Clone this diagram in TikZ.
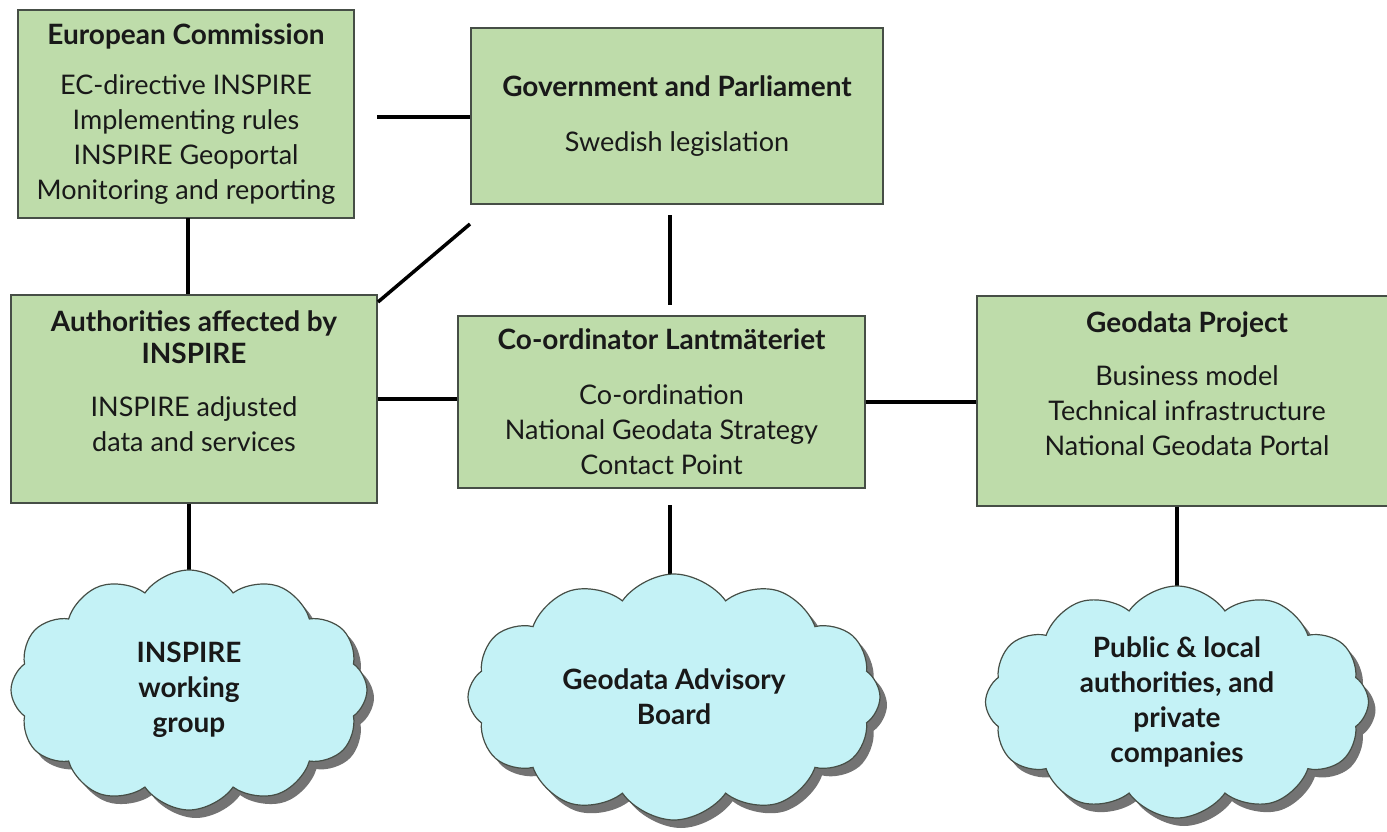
\documentclass[tikz,border=0pt]{standalone}
\usepackage{fontspec}
\setmainfont{Lato}
\usetikzlibrary{shapes.symbols,shadows}
\definecolor{boxgreen}{RGB}{190,220,170}
\definecolor{cloudcyan}{RGB}{196,242,246}
\definecolor{edgegray}{RGB}{70,78,70}
\definecolor{txt}{RGB}{25,25,25}
\newcommand{\ttl}[1]{{\bfseries\fontsize{28}{35}\selectfont #1}}
\begin{document}
\begin{tikzpicture}[x=1pt,y=-1pt,
  box/.style={draw=edgegray, line width=1.5pt, fill=boxgreen, align=center, inner sep=0pt,
    text=txt, font=\fontsize{27}{35}\selectfont},
  puff/.style={cloud, cloud puffs=12, cloud puff arc=110, cloud ignores aspect,
    shape border rotate=15,
    draw=edgegray, line width=1.2pt, fill=cloudcyan, align=center, inner sep=0pt, text=txt,
    font=\bfseries\fontsize{28}{35}\selectfont,
    drop shadow={shadow xshift=7pt, shadow yshift=-8pt, fill=black!55, opacity=1}},
  link/.style={line width=3.5pt, black}]

\useasboundingbox (0,0) rectangle (1387,832);

% boxes
\node[box, minimum width=336pt, minimum height=208pt] (ec) at (186,114)
  {\ttl{European Commission}\\[15pt]
   EC-directive INSPIRE\\ Implementing rules\\ INSPIRE Geoportal\\ Monitoring and reporting};
\node[box, minimum width=412pt, minimum height=176pt] (gp) at (677,116)
  {\ttl{Government and Parliament}\\[20pt] Swedish legislation};
\node[box, minimum width=366pt, minimum height=208pt] (auth) at (194,399)
  {\ttl{Authorities affected by}\\[-3pt] \ttl{INSPIRE}\\[18pt]
   INSPIRE adjusted\\ data and services\\ \mbox{}};
\node[box, minimum width=407pt, minimum height=172pt] (coord) at (661.5,402)
  {\ttl{Co-ordinator Lantmäteriet}\\[20pt]
   Co-ordination\\ National Geodata Strategy\\ Contact Point};
\node[box, minimum width=420pt, minimum height=210pt] (geo) at (1187,401)
  {\ttl{Geodata Project}\\[18pt]
   Business model\\ Technical infrastructure\\ National Geodata Portal\\ \mbox{}};

% connectors between boxes
\coordinate (ecR) at (377,117);
\draw[link] (ecR) -- (ecR -| gp.west);
\coordinate (ecB) at (188,218);
\draw[link] (ecB) -- (ecB |- auth.north);
\coordinate (dA) at (378,302);
\coordinate (dB) at (470,224);
\draw[link] (dA) -- (dB);
\coordinate (gcA) at (670,215);
\coordinate (gcB) at (670,305);
\draw[link] (gcA) -- (gcB);
\draw[link] (auth.east) -- (auth.east -| coord.west);
\draw[link] (coord.east) -- (coord.east -| geo.west);

% cloud centres and links
\coordinate (c1) at (189,690);
\coordinate (c2) at (674,697);
\coordinate (c3) at (1177,702);
\draw[link] (auth.south -| c1) -- (c1);
\coordinate (cbA) at (670,505);
\draw[link] (cbA) -- (cbA |- c2);
\draw[link] (geo.south -| c3) -- (c3);

% clouds
\node[puff, minimum width=356pt, minimum height=240pt] (cloud1) at (c1)
  {INSPIRE\\ working\\ group};
\node[puff, minimum width=412pt, minimum height=246pt] (cloud2) at (c2)
  {Geodata Advisory\\ Board};
\node[puff, minimum width=383pt, minimum height=232pt] (cloud3) at (c3)
  {Public \& local\\ authorities, and\\ private\\ companies};
\end{tikzpicture}
\end{document}
